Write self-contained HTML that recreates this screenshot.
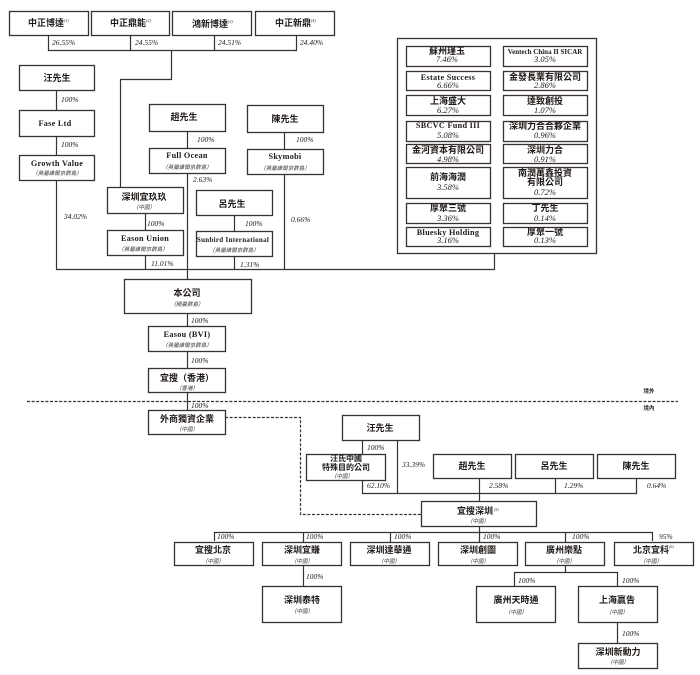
<!DOCTYPE html>
<html><head><meta charset="utf-8">
<style>
html,body{margin:0;padding:0;background:#fff;width:700px;height:675px;overflow:hidden}
svg{display:block}
text{text-anchor:middle;fill:#1e1917}
.h{font:bold 9px "Liberation Serif","Noto Sans CJK TC",sans-serif}
.l{font:bold 8.2px "Liberation Serif","Noto Serif CJK SC",serif;letter-spacing:.3px}
.s{font:italic 5.5px "Liberation Serif","Noto Sans CJK TC",sans-serif;fill:#333}
.p{font:italic 7.5px "Liberation Serif",serif;text-anchor:start}
.q{font:italic 8.5px "Liberation Serif",serif}
.u{font:italic 4px "Liberation Serif",serif;text-anchor:start}
rect{fill:#fff;stroke:#3a3230;stroke-width:1.3}
path{fill:none;stroke:#3a3230;stroke-width:1.2}
</style></head><body>
<svg width="700" height="675" viewBox="0 0 700 675" xmlns="http://www.w3.org/2000/svg">
<!-- connectors -->
<path d="M48.5 35V50.5H296.5V35M130.5 35V50M214.5 35V50M171.5 50.5V79.5H120.5V187"/>
<path d="M56.5 90V110M56.5 136V155M56.5 180V269.5H494.5V253"/>
<path d="M187.5 131V148M187.5 173V410"/>
<path d="M284.5 132V149M284.5 174V269"/>
<path d="M145.5 213V230M145.5 255V269"/>
<path d="M234.5 215V231M234.5 256V269"/>
<path d="M362.5 440V454M362.5 480V493.5H636.5V478M397.5 440V493M479.5 478V501M555.5 478V493"/>
<path d="M479.5 527V532M214.5 541V532.5H652.5V541M303.5 532V542M390.5 532V542M479.5 532V542M565.5 532V542"/>
<path d="M303.5 565V586M565.5 565V572.5M514.5 586V572.5H617.5V586M617.5 622V643"/>
<path d="M27 401.5H678" stroke-dasharray="3 1.6"/>
<path d="M225 417.5H300.5V514.5H421" stroke-dasharray="3 1.6"/>

<!-- top row -->
<rect x="9.5" y="11.5" width="79" height="24"/><text class="h" x="46" y="26">中正博達</text><text class="u" x="64" y="22">(1)</text>
<rect x="91.5" y="11.5" width="78" height="24"/><text class="h" x="128" y="26">中正鼎能</text><text class="u" x="146" y="22">(2)</text>
<rect x="172.5" y="11.5" width="79" height="24"/><text class="h" x="210" y="27">鴻新博達</text><text class="u" x="228" y="23">(3)</text>
<rect x="255.5" y="11.5" width="79" height="24"/><text class="h" x="293" y="26">中正新鼎</text><text class="u" x="311" y="22">(4)</text>
<text class="p" x="52" y="45">26.55%</text><text class="p" x="135" y="45">24.55%</text><text class="p" x="218" y="45">24.51%</text><text class="p" x="300" y="45">24.40%</text>

<!-- left chain -->
<rect x="19.5" y="65.5" width="75" height="25"/><text class="h" x="57" y="81">汪先生</text>
<text class="p" x="61" y="102">100%</text>
<rect x="19.5" y="110.5" width="75" height="26"/><text class="l" x="55" y="126">Fase Ltd</text>
<text class="p" x="61" y="147">100%</text>
<rect x="19.5" y="155.5" width="75" height="25"/><text class="l" x="57" y="166">Growth Value</text><text class="s" x="57" y="175">（英屬維爾京群島）</text>
<text class="p" x="64" y="219">34.02%</text>

<!-- centre -->
<rect x="149.5" y="104.5" width="76" height="27"/><text class="h" x="184" y="120">趙先生</text>
<text class="p" x="197" y="142">100%</text>
<rect x="149.5" y="148.5" width="76" height="25"/><text class="l" x="187" y="158">Full Ocean</text><text class="s" x="187" y="169">（英屬維爾京群島）</text>
<text class="p" x="193" y="182">2.63%</text>
<rect x="247.5" y="105.5" width="76" height="27"/><text class="h" x="285" y="122">陳先生</text>
<text class="p" x="296" y="142">100%</text>
<rect x="247.5" y="149.5" width="76" height="25"/><text class="l" x="285" y="159">Skymobi</text><text class="s" x="285" y="170">（英屬維爾京群島）</text>
<text class="p" x="291" y="222">0.66%</text>
<rect x="107.5" y="187.5" width="76" height="26"/><text class="h" x="144" y="200">深圳宜玖玖</text><text class="s" x="144" y="209">（中國）</text>
<text class="p" x="147" y="226">100%</text>
<rect x="107.5" y="230.5" width="76" height="25"/><text class="l" x="145" y="241">Eason Union</text><text class="s" x="143" y="251">（英屬維爾京群島）</text>
<text class="p" x="151" y="266">11.01%</text>
<rect x="196.5" y="190.5" width="76" height="25"/><text class="h" x="232" y="207">呂先生</text>
<text class="p" x="245" y="226">100%</text>
<rect x="196.5" y="231.5" width="76" height="25"/><text class="l" x="233" y="242" style="font-size:7px;letter-spacing:.3px">Sunbird International</text><text class="s" x="234" y="252">（英屬維爾京群島）</text>
<text class="p" x="240" y="267">1.31%</text>

<!-- investors box -->
<rect x="397.5" y="38.5" width="199" height="215"/>
<rect x="406.5" y="46.5" width="84" height="20"/><text class="h" x="447" y="54">蘇州瑾玉</text><text class="q" x="447" y="62">7.46%</text>
<rect x="503.5" y="46.5" width="84" height="20"/><text class="l" x="545" y="54" style="font-size:7px;letter-spacing:0">Ventech China II SICAR</text><text class="q" x="545" y="62">3.05%</text>
<rect x="406.5" y="71.5" width="84" height="19"/><text class="l" x="448" y="80">Estate Success</text><text class="q" x="448" y="88">6.66%</text>
<rect x="503.5" y="71.5" width="84" height="19"/><text class="h" x="545" y="80">金發長業有限公司</text><text class="q" x="545" y="88">2.86%</text>
<rect x="406.5" y="95.5" width="84" height="20"/><text class="h" x="448" y="104">上海盛大</text><text class="q" x="448" y="113">6.27%</text>
<rect x="503.5" y="95.5" width="84" height="20"/><text class="h" x="545" y="104">達致創投</text><text class="q" x="545" y="113">1.07%</text>
<rect x="406.5" y="121.5" width="84" height="20"/><text class="l" x="448" y="128">SBCVC Fund III</text><text class="q" x="448" y="138">5.08%</text>
<rect x="503.5" y="121.5" width="84" height="20"/><text class="h" x="545" y="129">深圳力合合夥企業</text><text class="q" x="545" y="138">0.96%</text>
<rect x="406.5" y="144.5" width="84" height="19"/><text class="h" x="448" y="153">金河資本有限公司</text><text class="q" x="448" y="162">4.98%</text>
<rect x="503.5" y="144.5" width="84" height="19"/><text class="h" x="545" y="153">深圳力合</text><text class="q" x="545" y="162">0.91%</text>
<rect x="406.5" y="167.5" width="84" height="31"/><text class="h" x="448" y="180">前海海潤</text><text class="q" x="448" y="190">3.58%</text>
<rect x="503.5" y="167.5" width="84" height="31"/><text class="h" x="545" y="176">南潤萬鑫投資</text><text class="h" x="545" y="185">有限公司</text><text class="q" x="545" y="195">0.72%</text>
<rect x="406.5" y="203.5" width="84" height="20"/><text class="h" x="448" y="211">厚聚三號</text><text class="q" x="448" y="221">3.36%</text>
<rect x="503.5" y="203.5" width="84" height="20"/><text class="h" x="545" y="211">丁先生</text><text class="q" x="545" y="221">0.14%</text>
<rect x="406.5" y="227.5" width="84" height="19"/><text class="l" x="448" y="235">Bluesky Holding</text><text class="q" x="448" y="243">3.16%</text>
<rect x="503.5" y="227.5" width="84" height="19"/><text class="h" x="545" y="235">厚聚一號</text><text class="q" x="545" y="243">0.13%</text>

<!-- main chain -->
<rect x="124.5" y="279.5" width="127" height="34"/><text class="h" x="187" y="296">本公司</text><text class="s" x="187" y="306">（開曼群島）</text>
<text class="p" x="191" y="323">100%</text>
<rect x="148.5" y="326.5" width="77" height="25"/><text class="l" x="187" y="337">Easou (BVI)</text><text class="s" x="187" y="347">（英屬維爾京群島）</text>
<text class="p" x="191" y="363">100%</text>
<rect x="148.5" y="368.5" width="77" height="24"/><text class="h" x="187" y="381">宜搜（香港）</text><text class="s" x="187" y="390">（香港）</text>
<text class="p" x="191" y="408">100%</text>
<rect x="148.5" y="410.5" width="77" height="24"/><text class="h" x="187" y="422">外商獨資企業</text><text class="s" x="187" y="431">（中國）</text>
<text class="s" x="649" y="393" style="font-weight:bold;font-style:normal;fill:#221c1a">境外</text>
<text class="s" x="649" y="410" style="font-weight:bold;font-style:normal;fill:#221c1a">境內</text>

<!-- lower -->
<rect x="342.5" y="415.5" width="77" height="25"/><text class="h" x="380" y="431">汪先生</text>
<text class="p" x="367" y="450">100%</text>
<rect x="306.5" y="454.5" width="79" height="26"/><text class="h" x="346" y="461" style="font-size:8px">汪氏中國</text><text class="h" x="346" y="470" style="font-size:8px">特殊目的公司</text><text class="s" x="342" y="478">（中國）</text>
<text class="p" x="367" y="488">62.10%</text>
<text class="p" x="402" y="467">33.39%</text>
<rect x="433.5" y="454.5" width="78" height="24"/><text class="h" x="472" y="469">趙先生</text>
<rect x="515.5" y="454.5" width="78" height="24"/><text class="h" x="554" y="469">呂先生</text>
<rect x="597.5" y="454.5" width="78" height="24"/><text class="h" x="636" y="469">陳先生</text>
<text class="p" x="489" y="488">2.58%</text><text class="p" x="564" y="488">1.29%</text><text class="p" x="647" y="488">0.64%</text>
<rect x="421.5" y="501.5" width="115" height="25"/><text class="h" x="475" y="514">宜搜深圳</text><text class="u" x="494" y="511">(5)</text><text class="s" x="478" y="523">（中國）</text>

<text class="p" x="217" y="539">100%</text><text class="p" x="306" y="539">100%</text><text class="p" x="394" y="539">100%</text><text class="p" x="483" y="539">100%</text><text class="p" x="572" y="539">100%</text><text class="p" x="659" y="539">95%</text>

<rect x="174.5" y="542.5" width="79" height="23"/><text class="h" x="213" y="553">宜搜北京</text><text class="s" x="213" y="563">（中國）</text>
<rect x="262.5" y="542.5" width="79" height="23"/><text class="h" x="302" y="553">深圳宜賺</text><text class="s" x="302" y="563">（中國）</text>
<rect x="350.5" y="542.5" width="79" height="23"/><text class="h" x="389" y="553">深圳達華通</text><text class="s" x="389" y="563">（中國）</text>
<rect x="438.5" y="542.5" width="79" height="23"/><text class="h" x="478" y="553">深圳創圖</text><text class="s" x="478" y="563">（中國）</text>
<rect x="525.5" y="542.5" width="79" height="23"/><text class="h" x="564" y="553">廣州樂點</text><text class="s" x="564" y="563">（中國）</text>
<rect x="614.5" y="542.5" width="79" height="23"/><text class="h" x="651" y="553">北京宜科</text><text class="u" x="669" y="548">(6)</text><text class="s" x="651" y="563">（中國）</text>

<text class="p" x="306" y="579">100%</text>
<rect x="262.5" y="586.5" width="79" height="36"/><text class="h" x="302" y="603">深圳泰特</text><text class="s" x="302" y="613">（中國）</text>
<text class="p" x="518" y="583">100%</text><text class="p" x="622" y="583">100%</text>
<rect x="476.5" y="586.5" width="79" height="36"/><text class="h" x="516" y="603">廣州天時通</text><text class="s" x="516" y="614">（中國）</text>
<rect x="578.5" y="586.5" width="79" height="36"/><text class="h" x="617" y="603">上海贏告</text><text class="s" x="617" y="614">（中國）</text>
<text class="p" x="622" y="636">100%</text>
<rect x="578.5" y="643.5" width="79" height="25"/><text class="h" x="618" y="655">深圳新動力</text><text class="s" x="618" y="664">（中國）</text>
</svg>
</body></html>
